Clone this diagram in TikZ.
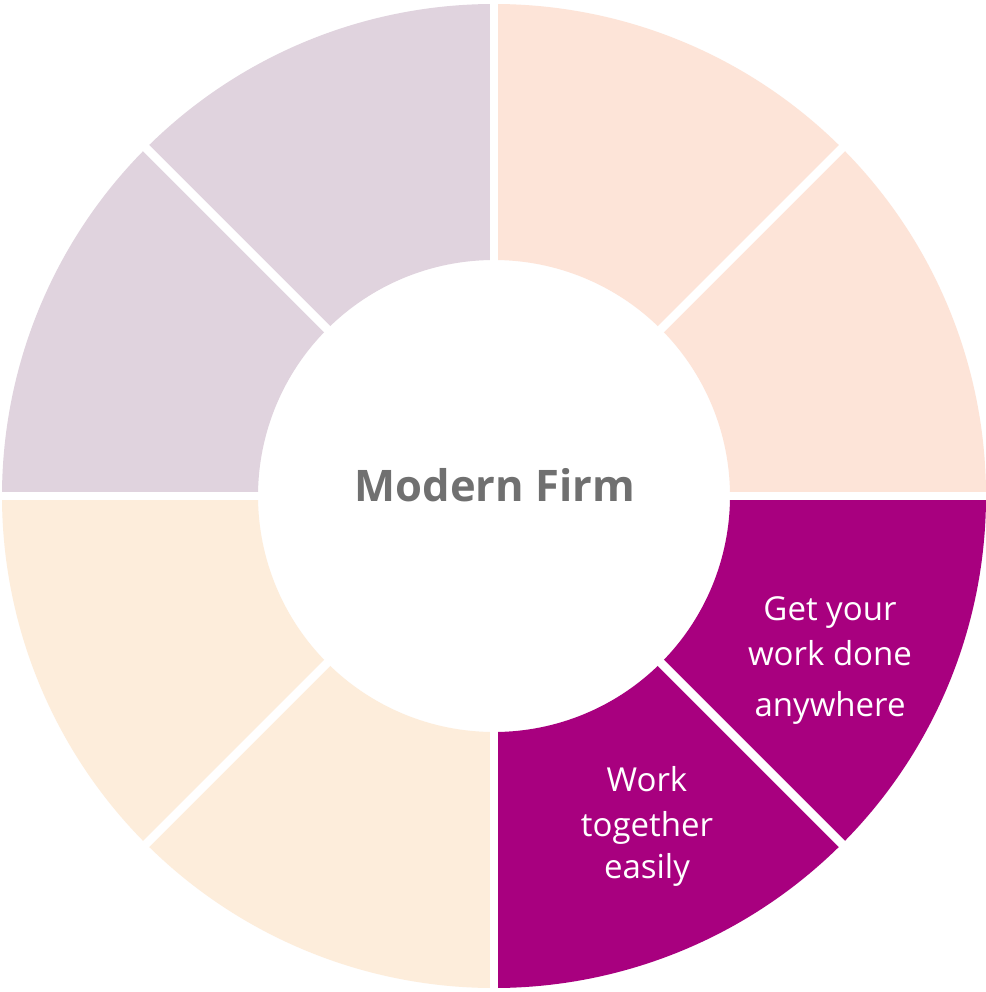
\documentclass[tikz,border=0pt]{standalone}
\usepackage{fontspec}
\setmainfont{Open Sans}
\definecolor{magentaseg}{HTML}{A8007F}
\definecolor{peachseg}{HTML}{FDE4D8}
\definecolor{lavseg}{HTML}{E0D3DE}
\definecolor{creamseg}{HTML}{FDEDDB}
\definecolor{graytext}{HTML}{707070}
\tikzset{
  segtext/.style={anchor=base, text=white, font=\fontsize{33}{33}\selectfont, inner sep=0pt},
  gapline/.style={draw=white, line width=8.5pt},
}
\newcommand{\donutseg}[3]{%
  \fill[#3] (#1:492) arc[start angle=#1, end angle=#2, radius=492] -- (#2:236) arc[start angle=#2, end angle=#1, radius=236] -- cycle;}
\begin{document}
\begin{tikzpicture}[x=1pt,y=-1pt]
\useasboundingbox (0,0) rectangle (985,992);
\fill[white] (0,0) rectangle (985,992);
\begin{scope}[shift={(494,496)}]
  \donutseg{0}{45}{magentaseg}
  \donutseg{45}{90}{magentaseg}
  \donutseg{90}{135}{creamseg}
  \donutseg{135}{180}{creamseg}
  \donutseg{180}{225}{lavseg}
  \donutseg{225}{270}{lavseg}
  \donutseg{270}{315}{peachseg}
  \donutseg{315}{360}{peachseg}
  \foreach \a in {0,45,...,315} {
    \draw[gapline] (\a:230) -- (\a:500);
  }
\end{scope}
\node[anchor=base, text=graytext, font=\fontsize{43.5}{43.5}\selectfont\bfseries, inner sep=0pt] (center) at (495,501.7) {Modern Firm};
\node[segtext] (g1) at (830,620) {Get your};
\node[segtext] (g2) at (830,665) {work done};
\node[segtext] (g3) at (830,716.7) {anywhere};
\node[segtext] (w1) at (647,791.7) {Work};
\node[segtext] (w2) at (647,836.7) {together};
\node[segtext] (w3) at (647,878) {easily};
\end{tikzpicture}
\end{document}
